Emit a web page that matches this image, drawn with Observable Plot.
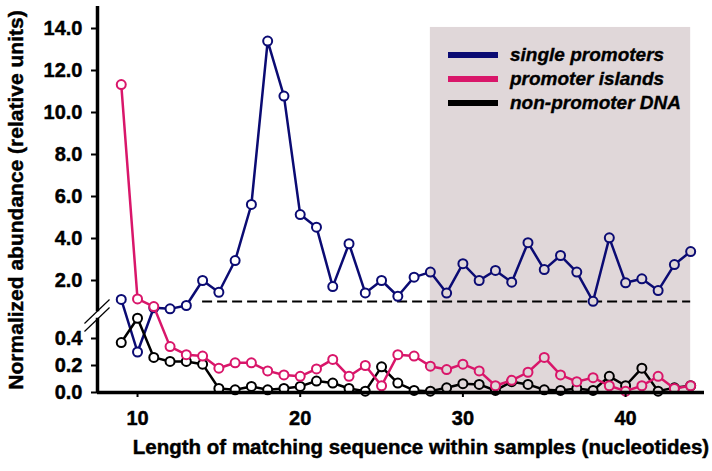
<!DOCTYPE html>
<html><head><meta charset="utf-8">
<script src="https://cdn.jsdelivr.net/npm/d3@7"></script>
<script src="https://cdn.jsdelivr.net/npm/@observablehq/plot@0.6"></script>
<style>
body{margin:0;background:#fff;}
#wrap{position:relative;width:712px;height:471px;font-family:"Liberation Sans",Arial,sans-serif;}
#legend{position:absolute;left:448px;top:43px;}
.row{display:flex;align-items:center;height:24px;}
.sw{width:50px;height:6px;margin-right:12px;}
.lab{font-weight:bold;font-style:italic;font-size:19px;color:#000;white-space:nowrap;-webkit-text-stroke:0.35px #000;}
#chart svg text{stroke:#000;stroke-width:0.45px;}
</style></head><body><div id="wrap"><div id="chart"></div><div id="legend"></div></div>
<script>
// ---- data ----
const lengths = [9,10,11,12,13,14,15,16,17,18,19,20,21,22,23,24,25,26,27,28,29,30,31,32,33,34,35,36,37,38,39,40,41,42,43,44];
const singlePromoters = [1.1,0.30,0.70,0.65,0.81,2.0,1.44,2.95,5.62,13.4,10.78,5.14,4.54,1.71,3.75,1.41,2.0,1.25,2.16,2.4,1.4,2.8,2.0,2.48,1.92,3.8,2.52,3.19,2.4,1.01,4.03,1.89,2.08,1.52,2.76,3.38];
const promoterIslands = [11.33,1.12,0.76,0.34,0.28,0.27,0.18,0.22,0.22,0.16,0.13,0.12,0.175,0.245,0.12,0.2,0.05,0.28,0.27,0.195,0.17,0.21,0.16,0.05,0.09,0.15,0.26,0.13,0.08,0.11,0.05,0.01,0.05,0.12,0.03,0.05];
const nonPromoterDNA = [0.37,0.55,0.26,0.23,0.23,0.21,0.03,0.02,0.045,0.02,0.03,0.045,0.085,0.07,0.03,0.01,0.19,0.07,0.015,0.01,0.035,0.065,0.06,0.015,0.08,0.06,0.02,0.015,0.03,0.015,0.12,0.05,0.18,0.01,0.035,0.05];
const seriesNames = ["single promoters","promoter islands","non-promoter DNA"];
const seriesColors = ["#0b0b73","#d9166a","#000000"];
const yTicks = [0,0.2,0.4,2,4,6,8,10,12,14];
const xTicks = [10,20,30,40];
const shadedRange = [28,44];
const shadedTop = 14.05;
const thresholdValue = 1.0;
const thresholdRange = [14,44];
const xLabel = "Length of matching sequence within samples (nucleotides)";
const yLabel = "Normalized abundance (relative units)";
// broken y axis: lower panel 0–0.55, upper panel 0.65–15
const yBreakDomain = [0,0.55,0.65,15];
const yBreakSpan = [0,74.25,83.65,385];
// axis break decoration (data units)
const breakMarks = [{x1:6.74,y1:0.511,x2:8.28,y2:1.095},{x1:6.74,y1:0.452,x2:8.28,y2:0.714}];
const yAxisSegments = [{y1:0,y2:0.55},{y1:0.62,y2:15.05}];

// ---- build ----
const shade = "#e0d7d9";
const brk = d3.scaleLinear().domain(yBreakDomain).range(yBreakSpan);
const valuesBySeries = [singlePromoters, promoterIslands, nonPromoterDNA];
const rows = seriesNames.map((name,k)=>lengths.map((L,i)=>({series:name,x:L,y:valuesBySeries[k][i],
  fill:(L>=shadedRange[0] && L<=shadedRange[1]) ? shade : "white"})));
const W=712,H=471,mL=97,mR=8,mT=7,mB=79;
const xDomain=[7.54,44.85];
const order=[0,2,1]; // draw blue, black, pink
const seriesMarks = order.flatMap(k=>[
  Plot.line(rows[k],{x:"x",y:"y",stroke:seriesColors[k],strokeWidth:2.5}),
  Plot.dot(rows[k],{x:"x",y:"y",r:4.5,stroke:seriesColors[k],strokeWidth:2,fill:"fill"})
]);
const fs = 20;
const fmt = d3.format(".1f");
const chart = Plot.plot({
  width:W,height:H,marginLeft:mL,marginRight:mR,marginTop:mT,marginBottom:mB,
  style:{fontFamily:'"Liberation Sans",Arial,sans-serif',fontSize:fs+"px",fontWeight:"bold",color:"#000",background:"#fff"},
  x:{domain:xDomain,label:null},
  y:{transform:v=>brk(v),domain:[0,385],range:[392,7],label:null},
  color:{type:"identity"},
  marks:[
    Plot.rect([{x1:shadedRange[0],x2:shadedRange[1],y1:0,y2:shadedTop}],{x1:"x1",x2:"x2",y1:"y1",y2:"y2",fill:shade}),
    Plot.ruleY([thresholdValue],{x1:thresholdRange[0],x2:thresholdRange[1],stroke:"#000",strokeWidth:2,strokeDasharray:"10,5"}),
    ...seriesMarks,
    Plot.ruleY([0],{stroke:"#000",strokeWidth:3.5}),
    Plot.ruleX(yAxisSegments,{x:xDomain[0],y1:"y1",y2:"y2",stroke:"#000",strokeWidth:3.5}),
    Plot.link(breakMarks,{x1:"x1",y1:"y1",x2:"x2",y2:"y2",stroke:"#000",strokeWidth:1.2}),
    Plot.axisX({ticks:xTicks,tickSize:5,tickPadding:13,strokeWidth:2,label:null,fontSize:fs,fontWeight:"bold"}),
    Plot.axisY({ticks:yTicks.map(v=>brk(v)),tickFormat:d=>fmt(brk.invert(d)),tickSize:6,tickPadding:9,strokeWidth:2,label:null,fontSize:fs,fontWeight:"bold"}),
    Plot.text([xLabel],{frameAnchor:"bottom",dy:61,dx:20,fontSize:20.5,fontWeight:"bold",fill:"#000"}),
    Plot.text([yLabel],{frameAnchor:"left",textAnchor:"middle",rotate:-90,dx:-81,fontSize:21,fontWeight:"bold",fill:"#000"})
  ]
});
chart.querySelectorAll("text").forEach(t=>{
  if (/^[0-9]/.test(t.textContent.trim())) { t.style.fontSize = fs+"px"; t.style.fontWeight = "bold"; }
});
document.getElementById("chart").appendChild(chart);
const lg = document.getElementById("legend");
seriesNames.forEach((n,k)=>{
  const r=document.createElement("div");r.className="row";
  r.innerHTML=`<div class="sw" style="background:${seriesColors[k]}"></div><div class="lab">${n}</div>`;
  lg.appendChild(r);
});
</script></body></html>
